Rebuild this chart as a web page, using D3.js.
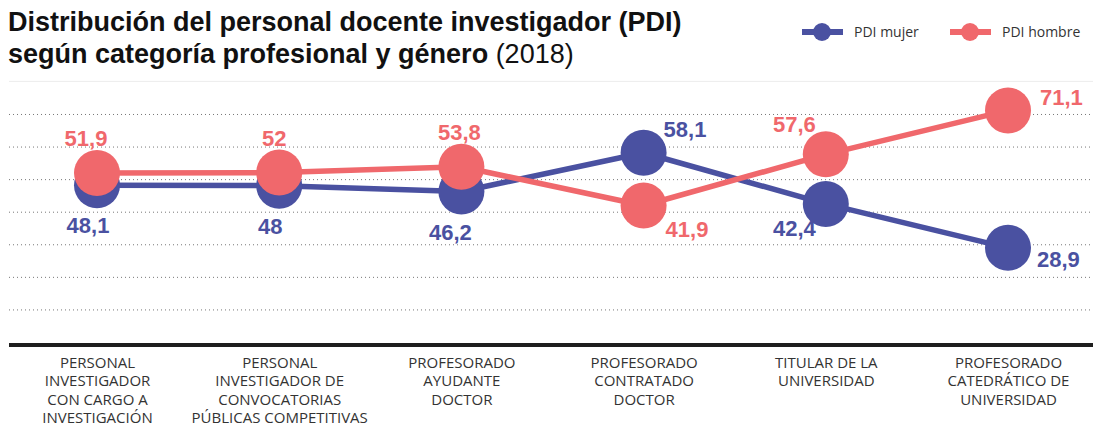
<!DOCTYPE html>
<html><head><meta charset="utf-8">
<script src="https://cdn.jsdelivr.net/npm/d3@7"></script>
<style>
html,body{margin:0;padding:0;background:#fff;}
svg{display:block;}
</style></head>
<body>
<svg id="chart" width="1093" height="430"></svg>
<script>
// ---- data ----
const categories = [
  "PERSONAL INVESTIGADOR CON CARGO A INVESTIGACIÓN",
  "PERSONAL INVESTIGADOR DE CONVOCATORIAS PÚBLICAS COMPETITIVAS",
  "PROFESORADO AYUDANTE DOCTOR",
  "PROFESORADO CONTRATADO DOCTOR",
  "TITULAR DE LA UNIVERSIDAD",
  "PROFESORADO CATEDRÁTICO DE UNIVERSIDAD"
];
const categoryLines = [
  ["PERSONAL", "INVESTIGADOR", "CON CARGO A", "INVESTIGACIÓN"],
  ["PERSONAL", "INVESTIGADOR DE", "CONVOCATORIAS", "PÚBLICAS COMPETITIVAS"],
  ["PROFESORADO", "AYUDANTE", "DOCTOR"],
  ["PROFESORADO", "CONTRATADO", "DOCTOR"],
  ["TITULAR DE LA", "UNIVERSIDAD"],
  ["PROFESORADO", "CATEDRÁTICO DE", "UNIVERSIDAD"]
];
const seriesNames = ["PDI mujer", "PDI hombre"];
const mujer = [48.1, 48, 46.2, 58.1, 42.4, 28.9];
const hombre = [51.9, 52, 53.8, 41.9, 57.6, 71.1];
const gridTicks = [10, 20, 30, 40, 50, 60, 70];
const titleLine1 = "Distribución del personal docente investigador (PDI)";
const titleLine2 = "según categoría profesional y género";
const titleYear = "(2018)";

// ---- setup ----
const BLUE = "#4a51a1", PINK = "#f0686c";
const svg = d3.select("#chart");
const x = d3.scalePoint().domain(categories).range([97, 1008]);
const y = d3.scaleLinear().domain([0, 80]).range([342, 81.4]);
const fmt = v => String(v).replace(".", ",");

// title
const t = svg.append("g").attr("font-family", "'Liberation Sans Narrow', 'Arial Narrow', sans-serif")
  .attr("font-size", 27).attr("fill", "#111");
t.append("text").attr("x", 8).attr("y", 31).attr("font-weight", "bold").text(titleLine1);
const t2 = t.append("text").attr("x", 8).attr("y", 63);
t2.append("tspan").attr("font-weight", "bold").text(titleLine2 + " ");
t2.append("tspan").attr("font-weight", "normal").text(titleYear);

// legend
const legend = svg.append("g").attr("font-family", "'Open Sans', sans-serif").attr("font-size", 14).attr("fill", "#333");
const legendItems = [
  {name: seriesNames[0], color: BLUE, x0: 802},
  {name: seriesNames[1], color: PINK, x0: 950}
];
legendItems.forEach(d => {
  legend.append("line").attr("x1", d.x0).attr("x2", d.x0 + 41).attr("y1", 32).attr("y2", 32)
    .attr("stroke", d.color).attr("stroke-width", 6);
  legend.append("circle").attr("cx", d.x0 + 20).attr("cy", 32).attr("r", 9).attr("fill", d.color);
  legend.append("text").attr("x", d.x0 + 52).attr("y", 37).text(d.name);
});

// faint top line
svg.append("line").attr("x1", 9).attr("x2", 1093).attr("y1", y(80)).attr("y2", y(80))
  .attr("stroke", "#ececec").attr("stroke-width", 1);

// gridlines
const yAxis = d3.axisLeft(y).tickValues(gridTicks).tickSize(-(1093 - 9)).tickFormat("");
const gy = svg.append("g").attr("transform", "translate(9,0)").call(yAxis);
gy.select(".domain").remove();
gy.selectAll(".tick line").attr("stroke", "#777").attr("stroke-dasharray", "1,3").attr("stroke-width", 1);

// baseline
svg.append("line").attr("x1", 9).attr("x2", 1093).attr("y1", y(0) + 3).attr("y2", y(0) + 3)
  .attr("stroke", "#1e1e1e").attr("stroke-width", 4);

// category labels
const xAxis = d3.axisBottom(x).tickSize(0).tickFormat("");
const gx = svg.append("g").attr("transform", "translate(0," + (y(0) + 5) + ")").call(xAxis);
gx.select(".domain").remove();
gx.selectAll(".tick").each(function(d, i) {
  const txt = d3.select(this).append("text").attr("fill", "#333")
    .attr("font-family", "'Open Sans', sans-serif").attr("font-size", 15)
    .attr("text-anchor", "middle");
  categoryLines[i].forEach((ln, j) => {
    txt.append("tspan").attr("x", 0).attr("y", 21 + j * 18.4).text(ln);
  });
});

// lines
const line = d3.line().x((d, i) => x(categories[i])).y(d => y(d));
const series = [
  {vals: mujer, color: BLUE},
  {vals: hombre, color: PINK}
];
series.forEach(s => {
  svg.append("path").datum(s.vals).attr("d", line).attr("fill", "none")
    .attr("stroke", s.color).attr("stroke-width", 5.5).attr("stroke-linejoin", "round");
});
series.forEach(s => {
  svg.append("g").selectAll("circle").data(s.vals).join("circle")
    .attr("cx", (d, i) => x(categories[i])).attr("cy", d => y(d)).attr("r", 23).attr("fill", s.color);
});

// value labels: placement offsets (dx, dy, anchor) relative to the marker
const mujerLabelPos = [
  [-9, 48, "middle"], [-9, 48, "middle"], [-11, 48, "middle"],
  [20, -16, "start"], [-10, 32, "end"], [29, 19, "start"]
];
const hombreLabelPos = [
  [-11, -27, "middle"], [-5, -27, "middle"], [-2, -27, "middle"],
  [22, 31, "start"], [-10, -22, "end"], [32, -5, "start"]
];
const labelG = svg.append("g").attr("font-family", "'Liberation Sans Narrow', 'Arial Narrow', sans-serif")
  .attr("font-weight", "bold").attr("font-size", 22);
[[mujer, mujerLabelPos, BLUE], [hombre, hombreLabelPos, PINK]].forEach(([vals, pos, col]) => {
  labelG.append("g").selectAll("text").data(vals).join("text")
    .attr("x", (d, i) => x(categories[i]) + pos[i][0])
    .attr("y", (d, i) => y(d) + pos[i][1])
    .attr("text-anchor", (d, i) => pos[i][2])
    .attr("fill", col).text(d => fmt(d));
});
</script>
</body></html>
